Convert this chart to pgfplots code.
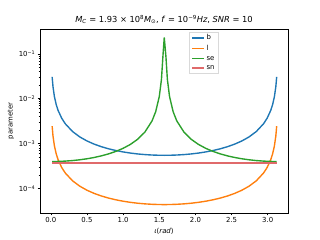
\documentclass[border=0pt]{standalone}
\usepackage{fontspec}
\setmainfont{DejaVu Sans}
\usepackage{pgfplots}
\pgfplotsset{compat=1.18}
\definecolor{mplblue}{HTML}{1F77B4}
\definecolor{mplorange}{HTML}{FF7F0E}
\definecolor{mplgreen}{HTML}{2CA02C}
\definecolor{mplred}{HTML}{D62728}
\definecolor{snred}{HTML}{E06A6B}
\begin{document}
\begin{tikzpicture}
\path[use as bounding box] (0,0) rectangle (460.8bp,345.6bp);
\begin{axis}[
  at={(57.6bp,38.9bp)}, anchor=south west,
  scale only axis, width=357.1bp, height=264.9bp,
  ymode=log,
  xmin=-0.15, xmax=3.28,
  ymin=2.86e-5, ymax=0.356,
  xtick={0,0.5,1,1.5,2,2.5,3},
  xticklabels={0.0,0.5,1.0,1.5,2.0,2.5,3.0},
  ytick={1e-4,1e-3,1e-2,1e-1},
  yticklabels={10\textsuperscript{−4},10\textsuperscript{−3},10\textsuperscript{−2},10\textsuperscript{−1}},
  xtick pos=bottom, ytick pos=left,
  tick align=outside,
  major tick length=3.5pt, minor tick length=2pt,
  every tick/.style={black, line width=0.8pt},
  minor tick style={line width=0.6pt},
  axis line style={line width=0.8pt},
  tick label style={font=\fontsize{10}{12}\selectfont},
  title={\textit{M}\textsubscript{\textit{C}} = 1.93 × 10\textsuperscript{8}\textit{M}\textsubscript{⊙}, \textit{f} = 10\textsuperscript{−9}\textit{Hz}, \textit{SNR} = 10},
  title style={font=\fontsize{12}{14}\selectfont, yshift=-2pt},
  xlabel={\textit{ι}(\textit{rad})},
  ylabel={parameter},
  label style={font=\fontsize{10}{12}\selectfont},
  legend style={at={(0.601,0.985)}, anchor=north west, draw=black!15,
    font=\fontsize{10}{12}\selectfont, row sep=2.5pt},
  legend cell align=left,
  legend image code/.code={\draw[#1] (0cm,0cm) -- (0.62cm,0cm);},
  every axis plot/.append style={line width=2pt, mark=none},
]
\addplot[color=mplblue] coordinates {
(0.018,0.030556)(0.03,0.018336)(0.05,0.011005)(0.075,0.0073402)(0.1,0.0055092)
(0.15,0.0036805)(0.2,0.0027684)(0.3,0.0018611)(0.4,0.0014124)(0.5,0.0011472)
(0.6,9.7407e-4)(0.7,8.5375e-4)(0.8,7.6670e-4)(0.9,7.0213e-4)(1.0,6.5362e-4)
(1.1,6.1714e-4)(1.2,5.9010e-4)(1.3,5.7080e-4)(1.4,5.5812e-4)(1.5,5.5138e-4)
(1.5708,5.5e-4)
(1.6416,5.5138e-4)(1.7416,5.5812e-4)(1.8416,5.7080e-4)(1.9416,5.9010e-4)(2.0416,6.1714e-4)
(2.1416,6.5362e-4)(2.2416,7.0213e-4)(2.3416,7.6670e-4)(2.4416,8.5375e-4)(2.5416,9.7407e-4)
(2.6416,0.0011472)(2.7416,0.0014124)(2.8416,0.0018611)(2.9416,0.0027684)(2.9916,0.0036805)
(3.0416,0.0055092)(3.0666,0.0073402)(3.0916,0.011005)(3.1116,0.018336)(3.1236,0.030556)
};
\addlegendentry{b}
\addplot[color=mplorange] coordinates {
(0.018,0.0024444)(0.03,0.0014669)(0.05,8.8037e-4)(0.075,5.8722e-4)(0.1,4.4074e-4)
(0.15,2.9444e-4)(0.2,2.2147e-4)(0.3,1.4889e-4)(0.4,1.1299e-4)(0.5,9.1777e-5)
(0.6,7.7926e-5)(0.7,6.8300e-5)(0.8,6.1336e-5)(0.9,5.6170e-5)(1.0,5.2290e-5)
(1.1,4.9371e-5)(1.2,4.7208e-5)(1.3,4.5664e-5)(1.4,4.4650e-5)(1.5,4.4110e-5)
(1.5708,4.4e-5)
(1.6416,4.4110e-5)(1.7416,4.4650e-5)(1.8416,4.5664e-5)(1.9416,4.7208e-5)(2.0416,4.9371e-5)
(2.1416,5.2290e-5)(2.2416,5.6170e-5)(2.3416,6.1336e-5)(2.4416,6.8300e-5)(2.5416,7.7926e-5)
(2.6416,9.1777e-5)(2.7416,1.1299e-4)(2.8416,1.4889e-4)(2.9416,2.2147e-4)(2.9916,2.9444e-4)
(3.0416,4.4074e-4)(3.0666,5.8722e-4)(3.0916,8.8037e-4)(3.1116,0.0014669)(3.1236,0.0024444)
};
\addlegendentry{l}
\addplot[color=mplgreen] coordinates {
(0.018,4.0007e-4)(0.03,4.0020e-4)(0.05,4.0054e-4)(0.075,4.0120e-4)(0.1,4.0216e-4)
(0.15,4.0489e-4)(0.2,4.0876e-4)(0.3,4.2017e-4)(0.4,4.3707e-4)(0.5,4.6056e-4)
(0.6,4.9234e-4)(0.7,5.3505e-4)(0.8,5.9287e-4)(0.9,6.7287e-4)(1.0,7.8757e-4)
(1.1,9.6152e-4)(1.2,0.0012496)(1.3,0.0018024)(1.4,0.0032154)(1.45,0.0051364)
(1.5,0.011226)(1.53,0.027107)(1.55,0.087169)(1.5686,0.232)
(1.5916,0.087169)(1.6116,0.027107)(1.6416,0.011226)(1.6916,0.0051364)(1.7416,0.0032154)
(1.8416,0.0018024)(1.9416,0.0012496)(2.0416,9.6152e-4)(2.1416,7.8757e-4)(2.2416,6.7287e-4)
(2.3416,5.9287e-4)(2.4416,5.3505e-4)(2.5416,4.9234e-4)(2.6416,4.6056e-4)(2.7416,4.3707e-4)
(2.8416,4.2017e-4)(2.9416,4.0876e-4)(2.9916,4.0489e-4)(3.0416,4.0216e-4)(3.0666,4.0120e-4)
(3.0916,4.0054e-4)(3.1116,4.0020e-4)(3.1236,4.0007e-4)
};
\addlegendentry{se}
\addplot[color=snred, line width=2.4pt] coordinates {
(0.018,3.7e-4)(0.8,3.7e-4)(1.5708,3.7e-4)(2.35,3.7e-4)(3.1236,3.7e-4)
};
\addlegendentry{sn}
\end{axis}
\end{tikzpicture}
\end{document}
